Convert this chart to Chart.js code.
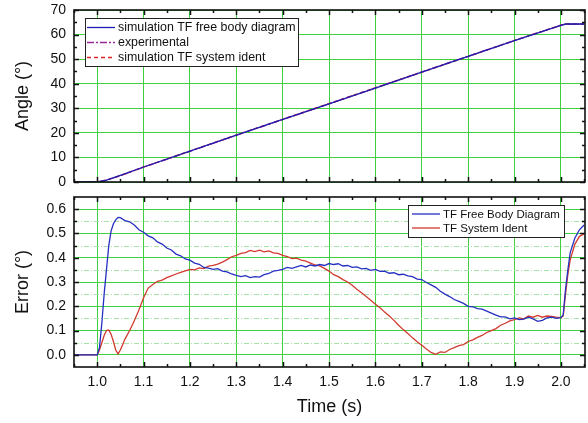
<!DOCTYPE html>
<html>
<head>
<meta charset="utf-8">
<script src="https://cdn.jsdelivr.net/npm/chart.js@4"></script>
<style>
body { margin: 0; background: #fff; }
#wrap { position: relative; width: 588px; height: 423px; background: #fff; }
canvas { position: absolute; left: 0; }
</style>
</head>
<body>
<div id="wrap">
  <canvas id="angleChart" width="588" height="190" style="top:0"></canvas>
  <canvas id="errorChart" width="588" height="233" style="top:190px"></canvas>
</div>
<script>
// tick labels
const timeTicks = [1.0, 1.1, 1.2, 1.3, 1.4, 1.5, 1.6, 1.7, 1.8, 1.9, 2.0];
const timeMinor = [0.95, 1.05, 1.15, 1.25, 1.35, 1.45, 1.55, 1.65, 1.75, 1.85, 1.95, 2.05];
const angleTicks = [0, 10, 20, 30, 40, 50, 60, 70];
const angleMinor = [5, 15, 25, 35, 45, 55, 65];
const errorTicks = [0.0, 0.1, 0.2, 0.3, 0.4, 0.5, 0.6];
const errorMinor = [0.05, 0.15, 0.25, 0.35, 0.45, 0.55];

// upper plot: angle
const tAngle = [0.95, 1.0, 1.02, 1.05, 1.1, 1.2, 1.3, 1.4, 1.5, 1.6, 1.7, 1.8, 1.9, 2.0, 2.01, 2.05];
const angleFbd = [0, 0, 0.8, 2.7, 6.1, 12.6, 19.1, 25.5, 31.8, 38.2, 44.7, 51.1, 57.5, 63.7, 64.3, 64.3];
const angleExp = [0, 0, 0.7, 2.6, 6.0, 12.5, 19.0, 25.4, 31.8, 38.3, 44.8, 51.2, 57.6, 63.8, 64.2, 64.2];
const angleSi  = [0, 0, 0.8, 2.6, 6.1, 12.6, 19.1, 25.5, 31.9, 38.3, 44.7, 51.1, 57.6, 63.8, 64.3, 64.3];

// lower plot: error
const tErr = [0.95, 1.0, 1.005, 1.01, 1.015, 1.02, 1.025, 1.03, 1.035, 1.04, 1.045, 1.05,
  1.06, 1.07, 1.08, 1.09, 1.10, 1.11, 1.12, 1.13, 1.14, 1.15, 1.16, 1.17, 1.18, 1.19,
  1.20, 1.21, 1.22, 1.23, 1.24, 1.25, 1.26, 1.27, 1.28, 1.29,
  1.30, 1.31, 1.32, 1.33, 1.34, 1.35, 1.36, 1.37, 1.38, 1.39,
  1.40, 1.41, 1.42, 1.43, 1.44, 1.45, 1.46, 1.47, 1.48, 1.49,
  1.50, 1.51, 1.52, 1.53, 1.54, 1.55, 1.56, 1.57, 1.58, 1.59,
  1.60, 1.61, 1.62, 1.63, 1.64, 1.65, 1.66, 1.67, 1.68, 1.69,
  1.70, 1.71, 1.72, 1.73, 1.74, 1.75, 1.76, 1.77, 1.78, 1.79,
  1.80, 1.81, 1.82, 1.83, 1.84, 1.85, 1.86, 1.87, 1.88, 1.89,
  1.90, 1.91, 1.92, 1.93, 1.94, 1.95, 1.96, 1.97, 1.98, 1.99,
  2.00, 2.005, 2.01, 2.015, 2.02, 2.03, 2.04, 2.05];
const errFbd = [0, 0, 0.03, 0.13, 0.25, 0.35, 0.45, 0.51, 0.54, 0.556, 0.566, 0.565,
  0.553, 0.548, 0.535, 0.515, 0.505, 0.490, 0.482, 0.465, 0.456, 0.440, 0.432, 0.415, 0.408, 0.395,
  0.390, 0.378, 0.373, 0.360, 0.357, 0.352, 0.355, 0.345, 0.342, 0.333,
  0.327, 0.322, 0.326, 0.318, 0.322, 0.320, 0.330, 0.335, 0.345, 0.348,
  0.352, 0.360, 0.356, 0.362, 0.368, 0.362, 0.370, 0.366, 0.372, 0.368,
  0.376, 0.372, 0.375, 0.366, 0.368, 0.360, 0.362, 0.354, 0.356, 0.348,
  0.352, 0.344, 0.345, 0.336, 0.338, 0.330, 0.332, 0.325, 0.322, 0.312,
  0.310, 0.298, 0.288, 0.278, 0.262, 0.250, 0.240, 0.228, 0.220, 0.212,
  0.200, 0.198, 0.190, 0.188, 0.180, 0.172, 0.164, 0.156, 0.156, 0.148,
  0.152, 0.145, 0.147, 0.155, 0.148, 0.138, 0.142, 0.152, 0.155, 0.150,
  0.153, 0.165, 0.27, 0.35, 0.42, 0.48, 0.515, 0.535];
const errSi = [0, 0, 0.02, 0.05, 0.08, 0.10, 0.102, 0.085, 0.055, 0.02, 0.004, 0.02,
  0.065, 0.100, 0.140, 0.185, 0.235, 0.275, 0.290, 0.303, 0.308, 0.318, 0.325, 0.333, 0.340, 0.346,
  0.352, 0.350, 0.358, 0.355, 0.365, 0.368, 0.374, 0.382, 0.392, 0.404,
  0.410, 0.418, 0.421, 0.430, 0.425, 0.431, 0.424, 0.428, 0.420, 0.418,
  0.410, 0.405, 0.396, 0.398, 0.390, 0.386, 0.378, 0.370, 0.366, 0.356,
  0.345, 0.330, 0.322, 0.310, 0.300, 0.287, 0.270, 0.256, 0.240, 0.225,
  0.208, 0.194, 0.176, 0.160, 0.142, 0.122, 0.104, 0.088, 0.070, 0.054,
  0.040, 0.024, 0.010, 0.002, 0.012, 0.010, 0.022, 0.030, 0.038, 0.042,
  0.055, 0.062, 0.072, 0.080, 0.092, 0.100, 0.108, 0.122, 0.130, 0.140,
  0.145, 0.152, 0.148, 0.160, 0.155, 0.162, 0.155, 0.160, 0.158, 0.155,
  0.153, 0.16, 0.25, 0.33, 0.39, 0.455, 0.488, 0.498];

Chart.defaults.font.family = '"Liberation Sans", Arial, sans-serif';
Chart.defaults.color = '#111';

const GREEN = '#3fd03f';

function zeroPad(s) {
  s.paddingLeft = 0; s.paddingRight = 0; s.paddingTop = 0; s.paddingBottom = 0;
}

function pts(xs, ys) {
  return xs.map((t, i) => ({ x: t, y: ys[i] }));
}

// dashed minor grid, inward ticks and the black frame
const frameTicks = {
  id: 'frameTicks',
  beforeDatasetsDraw(chart, args, opts) {
    if (!opts.minorGridY) return;
    const { ctx, chartArea: a, scales: { y } } = chart;
    ctx.save();
    ctx.strokeStyle = '#a9e2a9';
    ctx.lineWidth = 1;
    ctx.setLineDash([5, 2, 1, 2]);
    ctx.beginPath();
    opts.minorGridY.forEach(v => {
      const py = Math.round(y.getPixelForValue(v)) + 0.5;
      ctx.moveTo(a.left, py); ctx.lineTo(a.right, py);
    });
    ctx.stroke();
    ctx.restore();
  },
  afterDatasetsDraw(chart, args, opts) {
    const { ctx, chartArea: a, scales: { x, y } } = chart;
    ctx.save();
    ctx.strokeStyle = '#111';
    ctx.lineWidth = 1.5;
    ctx.beginPath();
    const xt = (vals, len) => vals.forEach(v => {
      const px = Math.round(x.getPixelForValue(v)) + 0.5;
      ctx.moveTo(px, a.bottom); ctx.lineTo(px, a.bottom - len);
      ctx.moveTo(px, a.top); ctx.lineTo(px, a.top + len);
    });
    const yt = (vals, len) => vals.forEach(v => {
      const py = Math.round(y.getPixelForValue(v)) + 0.5;
      ctx.moveTo(a.left, py); ctx.lineTo(a.left + len, py);
      ctx.moveTo(a.right, py); ctx.lineTo(a.right - len, py);
    });
    xt(opts.xMajor, 5); xt(opts.xMinor, 3);
    yt(opts.yMajor, 5); yt(opts.yMinor, 3);
    ctx.stroke();
    ctx.lineWidth = 1.6;
    ctx.strokeRect(a.left, a.top, a.right - a.left, a.bottom - a.top);
    ctx.restore();
  }
};

// boxed legend inside the plot
const boxLegend = {
  id: 'boxLegend',
  afterDatasetsDraw(chart, args, o) {
    const { ctx } = chart;
    ctx.save();
    ctx.fillStyle = '#fff';
    ctx.fillRect(o.x, o.y, o.w, o.h);
    ctx.strokeStyle = '#222';
    ctx.lineWidth = 1;
    ctx.strokeRect(o.x + 0.5, o.y + 0.5, o.w, o.h);
    ctx.font = o.font;
    ctx.textBaseline = 'middle';
    chart.data.datasets.forEach((ds, i) => {
      const ry = o.rows[i];
      ctx.strokeStyle = ds.borderColor;
      ctx.lineWidth = ds.borderWidth;
      ctx.setLineDash(ds.borderDash || []);
      ctx.beginPath();
      ctx.moveTo(o.lx0, ry); ctx.lineTo(o.lx1, ry);
      ctx.stroke();
      ctx.setLineDash([]);
      ctx.fillStyle = '#111';
      ctx.fillText(ds.label, o.tx, ry + 0.5);
    });
    ctx.restore();
  }
};

const gridOpts = { color: GREEN, lineWidth: 1, drawTicks: false };

new Chart(document.getElementById('angleChart'), {
  type: 'line',
  data: {
    datasets: [
      { label: 'simulation TF free body diagram', data: pts(tAngle, angleFbd),
        borderColor: '#1c1cb0', borderWidth: 1.3 },
      { label: 'experimental', data: pts(tAngle, angleExp),
        borderColor: '#9a2a9a', borderWidth: 1.3, borderDash: [7, 2, 2, 2] },
      { label: 'simulation TF system ident', data: pts(tAngle, angleSi),
        borderColor: '#e02424', borderWidth: 1.4, borderDash: [4, 3] }
    ]
  },
  options: {
    responsive: false,
    animation: false,
    layout: { padding: { left: 0, right: 3, top: 10, bottom: 0 } },
    elements: { point: { radius: 0 }, line: { tension: 0 } },
    plugins: {
      legend: { display: false },
      tooltip: { enabled: false },
      frameTicks: { xMajor: timeTicks, xMinor: timeMinor, yMajor: angleTicks, yMinor: angleMinor },
      boxLegend: { x: 85, y: 18, w: 213, h: 48, rows: [27.5, 42.5, 57.5],
        lx0: 87, lx1: 115, tx: 118, font: '12.4px "Liberation Sans", Arial, sans-serif' }
    },
    scales: {
      x: {
        type: 'linear', min: 0.95, max: 2.052,
        afterBuildTicks: s => { s.ticks = timeTicks.map(v => ({ value: v })); },
        afterFit: s => { s.height = 8; zeroPad(s); },
        ticks: { display: false },
        grid: gridOpts,
        border: { display: false }
      },
      y: {
        min: 0, max: 70,
        afterBuildTicks: s => { s.ticks = angleTicks.map(v => ({ value: v })); },
        afterFit: s => { s.width = 74; zeroPad(s); },
        ticks: { padding: 8, font: { size: 14 }, color: '#111' },
        grid: gridOpts,
        border: { display: false },
        title: { display: true, text: 'Angle (°)', font: { size: 18 }, color: '#111',
          padding: { top: 12, bottom: 0 } }
      }
    }
  },
  plugins: [frameTicks, boxLegend]
});

new Chart(document.getElementById('errorChart'), {
  type: 'line',
  data: {
    datasets: [
      { label: 'TF Free Body Diagram', data: pts(tErr, errFbd),
        borderColor: '#2630c0', borderWidth: 1.3 },
      { label: 'TF System Ident', data: pts(tErr, errSi),
        borderColor: '#d23a2e', borderWidth: 1.3 }
    ]
  },
  options: {
    responsive: false,
    animation: false,
    layout: { padding: { left: 0, right: 3, top: 7, bottom: 0 } },
    elements: { point: { radius: 0 }, line: { tension: 0 } },
    plugins: {
      legend: { display: false },
      tooltip: { enabled: false },
      frameTicks: { xMajor: timeTicks, xMinor: timeMinor, yMajor: errorTicks, yMinor: errorMinor,
        minorGridY: errorMinor },
      boxLegend: { x: 408, y: 15, w: 156, h: 32, rows: [24, 38],
        lx0: 412, lx1: 440, tx: 443, font: '11.5px "Liberation Sans", Arial, sans-serif' }
    },
    scales: {
      x: {
        type: 'linear', min: 0.95, max: 2.052,
        afterBuildTicks: s => { s.ticks = timeTicks.map(v => ({ value: v })); },
        afterFit: s => { s.height = 56; zeroPad(s); },
        ticks: { padding: 7, font: { size: 14 }, color: '#111', maxRotation: 0,
          callback: v => v.toFixed(1) },
        grid: gridOpts,
        border: { display: false },
        title: { display: true, text: 'Time (s)', font: { size: 18 }, color: '#111',
          padding: { top: 0, bottom: 5 } }
      },
      y: {
        min: -0.05, max: 0.65,
        afterBuildTicks: s => { s.ticks = errorTicks.map(v => ({ value: v })); },
        afterFit: s => { s.width = 74; zeroPad(s); },
        ticks: { padding: 8, font: { size: 14 }, color: '#111', callback: v => v.toFixed(1) },
        grid: gridOpts,
        border: { display: false },
        title: { display: true, text: 'Error (°)', font: { size: 18 }, color: '#111',
          padding: { top: 12, bottom: 0 } }
      }
    }
  },
  plugins: [frameTicks, boxLegend]
});
</script>
</body>
</html>
